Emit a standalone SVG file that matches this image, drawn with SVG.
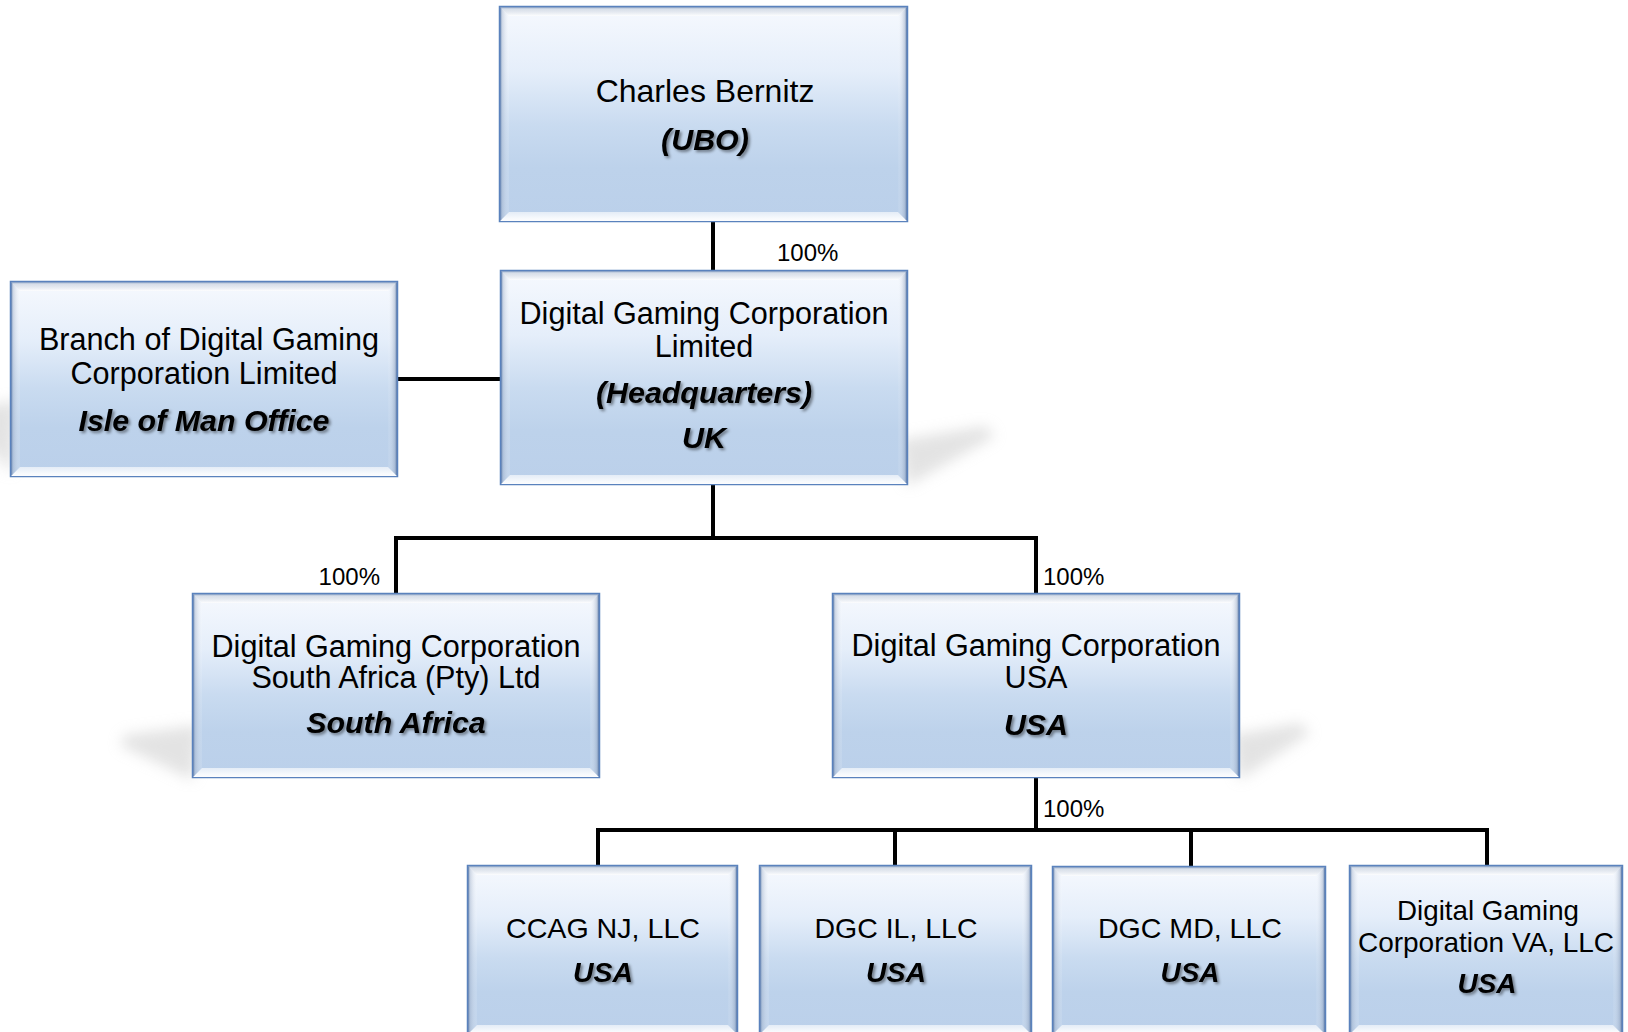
<svg xmlns="http://www.w3.org/2000/svg" width="1628" height="1032" viewBox="0 0 1628 1032">
<defs>
<linearGradient id="body" x1="0" y1="0" x2="0" y2="1">
<stop offset="0" stop-color="#f6f9fe"/>
<stop offset="0.3" stop-color="#e5eefa"/>
<stop offset="0.55" stop-color="#c9dbf0"/>
<stop offset="0.75" stop-color="#bdd2eb"/>
<stop offset="1" stop-color="#bbd0ea"/>
</linearGradient>
<linearGradient id="bvTop" x1="0" y1="0" x2="0" y2="1">
<stop offset="0" stop-color="#b3bfd0" stop-opacity="0.55"/>
<stop offset="1" stop-color="#ffffff" stop-opacity="0.8"/>
</linearGradient>
<linearGradient id="bvBot" x1="0" y1="0" x2="0" y2="1">
<stop offset="0" stop-color="#ffffff" stop-opacity="0.6"/>
<stop offset="1" stop-color="#ffffff" stop-opacity="1"/>
</linearGradient>
<linearGradient id="bvLeft" x1="0" y1="0" x2="1" y2="0">
<stop offset="0" stop-color="#7f93b3" stop-opacity="0.55"/>
<stop offset="1" stop-color="#ffffff" stop-opacity="0.1"/>
</linearGradient>
<linearGradient id="bvRight" x1="0" y1="0" x2="1" y2="0">
<stop offset="0" stop-color="#ffffff" stop-opacity="0.05"/>
<stop offset="1" stop-color="#6d84a8" stop-opacity="0.6"/>
</linearGradient>
<filter id="tshadow" x="-10%" y="-30%" width="130%" height="170%">
<feDropShadow dx="2" dy="2" stdDeviation="1.4" flood-color="#000" flood-opacity="0.45"/>
</filter>
<filter id="soft" x="-50%" y="-50%" width="200%" height="200%">
<feGaussianBlur stdDeviation="7"/>
</filter>
</defs>
<style>
.box{fill:url(#body);stroke:#5a82bd;stroke-width:2.5}
.bt{fill:url(#bvTop)}
.bb{fill:url(#bvBot)}
.bl{fill:url(#bvLeft)}
.br{fill:url(#bvRight)}
.t{font-family:"Liberation Sans",Arial,Helvetica,sans-serif;font-size:30.6px;fill:#000;text-anchor:middle}
.big{font-size:32px}
.s{font-size:28.5px}
.bi{font-weight:bold;font-style:italic;font-size:30.4px;filter:url(#tshadow)}
.s.bi{font-size:28.5px}
.pct{font-family:"Liberation Sans",Arial,Helvetica,sans-serif;font-size:24px;fill:#000}
.ln{stroke:#000;stroke-width:4;fill:none}
.sh{fill:#c8c8c8;opacity:0.5;filter:url(#soft)}
</style>
<rect width="1628" height="1032" fill="#fff"/>

<g id="shadows">
<polygon class="sh" points="900,440 985,426 995,436 907,486"/>
<polygon class="sh" points="1232,735 1300,723 1310,733 1239,780"/>
<polygon class="sh" points="200,725 125,735 120,745 193,780"/>
<polygon class="sh" points="18,400 -30,410 -30,420 11,474"/>
</g>

<g id="connectors">
<line class="ln" x1="713" y1="221" x2="713" y2="271"/>
<line class="ln" x1="397" y1="379" x2="501" y2="379"/>
<line class="ln" x1="713" y1="484" x2="713" y2="540"/>
<polyline class="ln" points="396,594 396,538 1036,538 1036,594"/>
<line class="ln" x1="1036" y1="777" x2="1036" y2="832"/>
<polyline class="ln" points="598,865 598,830 1487,830 1487,865"/>
<line class="ln" x1="895" y1="830" x2="895" y2="865"/>
<line class="ln" x1="1191" y1="830" x2="1191" y2="867"/>
<text class="pct" x="777" y="261">100%</text>
<text class="pct" x="380" y="585" text-anchor="end">100%</text>
<text class="pct" x="1043" y="585">100%</text>
<text class="pct" x="1043" y="817">100%</text>
</g>

<g id="node-ubo">
<rect class="box" x="500" y="7" width="407" height="214"/>
<polygon class="bt" points="500,7 907,7 898,16 509,16"/>
<polygon class="bb" points="500,221 907,221 898,212 509,212"/>
<polygon class="bl" points="500,7 509,16 509,212 500,221"/>
<polygon class="br" points="907,7 898,16 898,212 907,221"/>
<text class="t big" x="705" y="102">Charles Bernitz</text>
<text class="t bi" x="705" y="150">(UBO)</text>
</g>

<g id="node-branch">
<rect class="box" x="11" y="282" width="386" height="194"/>
<polygon class="bt" points="11,282 397,282 388,291 20,291"/>
<polygon class="bb" points="11,476 397,476 388,467 20,467"/>
<polygon class="bl" points="11,282 20,291 20,467 11,476"/>
<polygon class="br" points="397,282 388,291 388,467 397,476"/>
<text class="t" x="209" y="350">Branch of Digital Gaming</text>
<text class="t" x="204" y="384">Corporation Limited</text>
<text class="t bi" x="204" y="431">Isle of Man Office</text>
</g>

<g id="node-hq">
<rect class="box" x="501" y="271" width="406" height="213"/>
<polygon class="bt" points="501,271 907,271 898,280 510,280"/>
<polygon class="bb" points="501,484 907,484 898,475 510,475"/>
<polygon class="bl" points="501,271 510,280 510,475 501,484"/>
<polygon class="br" points="907,271 898,280 898,475 907,484"/>
<text class="t" x="704" y="324">Digital Gaming Corporation</text>
<text class="t" x="704" y="357">Limited</text>
<text class="t bi" x="704" y="403">(Headquarters)</text>
<text class="t bi" x="704" y="448">UK</text>
</g>

<g id="node-sa">
<rect class="box" x="193" y="594" width="406" height="183"/>
<polygon class="bt" points="193,594 599,594 590,603 202,603"/>
<polygon class="bb" points="193,777 599,777 590,768 202,768"/>
<polygon class="bl" points="193,594 202,603 202,768 193,777"/>
<polygon class="br" points="599,594 590,603 590,768 599,777"/>
<text class="t" x="396" y="657">Digital Gaming Corporation</text>
<text class="t" x="396" y="688">South Africa (Pty) Ltd</text>
<text class="t bi" x="396" y="733">South Africa</text>
</g>

<g id="node-usa">
<rect class="box" x="833" y="594" width="406" height="183"/>
<polygon class="bt" points="833,594 1239,594 1230,603 842,603"/>
<polygon class="bb" points="833,777 1239,777 1230,768 842,768"/>
<polygon class="bl" points="833,594 842,603 842,768 833,777"/>
<polygon class="br" points="1239,594 1230,603 1230,768 1239,777"/>
<text class="t" x="1036" y="656">Digital Gaming Corporation</text>
<text class="t" x="1036" y="688">USA</text>
<text class="t bi" x="1036" y="735">USA</text>
</g>

<g id="node-nj">
<rect class="box" x="468" y="866" width="269" height="168"/>
<polygon class="bt" points="468,866 737,866 728,875 477,875"/>
<polygon class="bb" points="468,1034 737,1034 728,1025 477,1025"/>
<polygon class="bl" points="468,866 477,875 477,1025 468,1034"/>
<polygon class="br" points="737,866 728,875 728,1025 737,1034"/>
<text class="t s" x="603" y="938" textLength="194" lengthAdjust="spacingAndGlyphs">CCAG NJ, LLC</text>
<text class="t s bi" x="603" y="982" textLength="60" lengthAdjust="spacingAndGlyphs">USA</text>
</g>

<g id="node-il">
<rect class="box" x="760" y="866" width="271" height="168"/>
<polygon class="bt" points="760,866 1031,866 1022,875 769,875"/>
<polygon class="bb" points="760,1034 1031,1034 1022,1025 769,1025"/>
<polygon class="bl" points="760,866 769,875 769,1025 760,1034"/>
<polygon class="br" points="1031,866 1022,875 1022,1025 1031,1034"/>
<text class="t s" x="896" y="938" textLength="163" lengthAdjust="spacingAndGlyphs">DGC IL, LLC</text>
<text class="t s bi" x="896" y="982" textLength="60" lengthAdjust="spacingAndGlyphs">USA</text>
</g>

<g id="node-md">
<rect class="box" x="1053" y="867" width="272" height="167"/>
<polygon class="bt" points="1053,867 1325,867 1316,876 1062,876"/>
<polygon class="bb" points="1053,1034 1325,1034 1316,1025 1062,1025"/>
<polygon class="bl" points="1053,867 1062,876 1062,1025 1053,1034"/>
<polygon class="br" points="1325,867 1316,876 1316,1025 1325,1034"/>
<text class="t s" x="1190" y="938" textLength="184" lengthAdjust="spacingAndGlyphs">DGC MD, LLC</text>
<text class="t s bi" x="1190" y="982" textLength="59" lengthAdjust="spacingAndGlyphs">USA</text>
</g>

<g id="node-va">
<rect class="box" x="1350" y="866" width="272" height="168"/>
<polygon class="bt" points="1350,866 1622,866 1613,875 1359,875"/>
<polygon class="bb" points="1350,1034 1622,1034 1613,1025 1359,1025"/>
<polygon class="bl" points="1350,866 1359,875 1359,1025 1350,1034"/>
<polygon class="br" points="1622,866 1613,875 1613,1025 1622,1034"/>
<text class="t s" x="1488" y="920" textLength="182" lengthAdjust="spacingAndGlyphs">Digital Gaming</text>
<text class="t s" x="1486" y="952" textLength="256" lengthAdjust="spacingAndGlyphs">Corporation VA, LLC</text>
<text class="t s bi" x="1487" y="993" textLength="59" lengthAdjust="spacingAndGlyphs">USA</text>
</g>
</svg>
